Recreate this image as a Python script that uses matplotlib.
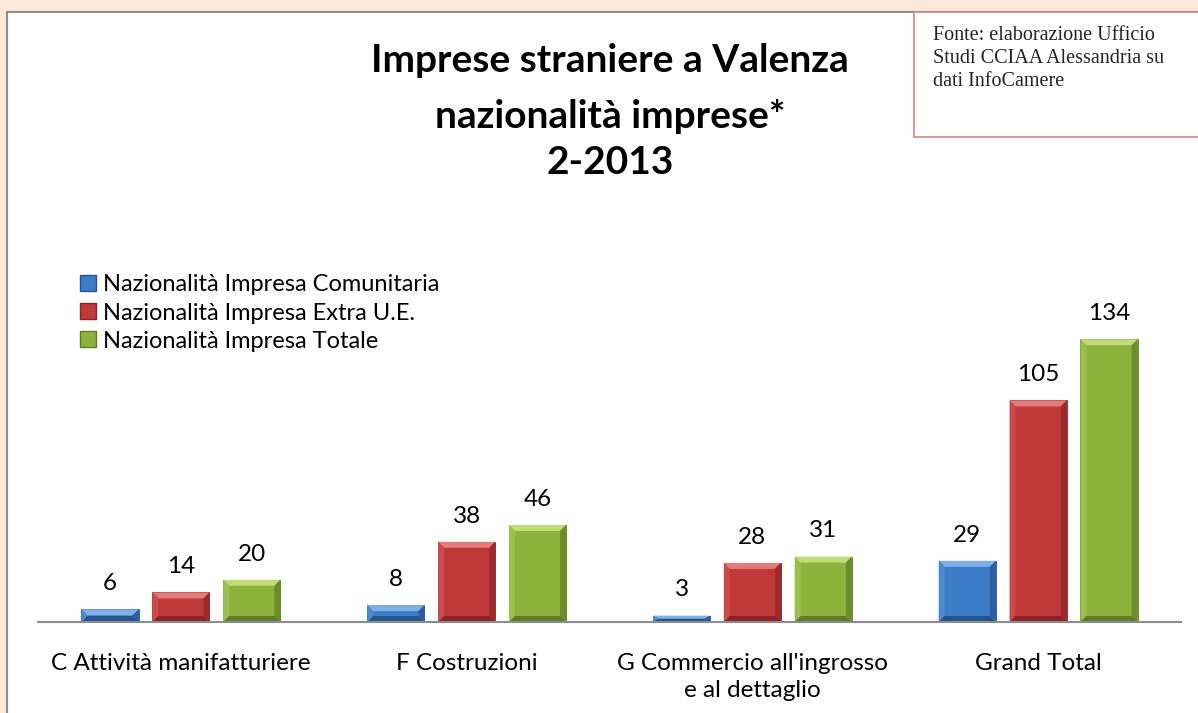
import matplotlib
matplotlib.use("Agg")
import matplotlib.pyplot as plt
from matplotlib.patches import Rectangle, Polygon, Patch
import numpy as np

categories = ["C Attività manifatturiere", "F Costruzioni",
              "G Commercio all'ingrosso\ne al dettaglio", "Grand Total"]
series_names = ["Nazionalità Impresa Comunitaria",
                "Nazionalità Impresa Extra U.E.",
                "Nazionalità Impresa Totale"]
comunitaria = [6, 8, 3, 29]
extra_ue = [14, 38, 28, 105]
totale = [20, 46, 31, 134]

title_lines = ["Imprese straniere a Valenza", "nazionalità imprese*", "2-2013"]
source_text = "Fonte: elaborazione Ufficio\nStudi CCIAA Alessandria su\ndati InfoCamere"

base_colors = ["#3b7cc6", "#c0393a", "#8db33d"]
light_colors = ["#7fb0ea", "#e57a7a", "#c0dc78"]
side_light = ["#4f8ad0", "#cc4a4a", "#9cc04c"]
dark_colors = ["#24558f", "#8a2426", "#5f7d25"]

W, H = 1198, 713
fig = plt.figure(figsize=(W / 100, H / 100), dpi=100)
fig.patch.set_facecolor("#fde9d9")

# inner white panel
fig.patches.append(Rectangle((7 / W, -0.01), 1.0, 1.01 - 12 / H, transform=fig.transFigure,
                             facecolor="white", edgecolor="#8c8c8c", linewidth=1.5, zorder=-3))
# source box
fig.patches.append(Rectangle((914 / W, 1 - 137 / H), 1.0, (137 - 12) / H, transform=fig.transFigure,
                             facecolor="white", edgecolor="#d98585", linewidth=1.2, zorder=-2))
fig.text(933 / W, 1 - 26 / H, source_text, ha="left", va="top",
         family="Liberation Serif", fontsize=14.5, color="#222222", linespacing=1.28)

ax_left, ax_right = 38 / W, 1181 / W
ax_bottom = 91 / H
ymax = 150
px_per_unit = 2.11
ax_h = ymax * px_per_unit / H
ax = fig.add_axes([ax_left, ax_bottom, ax_right - ax_left, ax_h])
ax.set_facecolor("none")

x = np.arange(len(categories))
width = 0.2
offset = 0.248
all_series = [comunitaria, extra_ue, totale]
bars = []
for i, vals in enumerate(all_series):
    b = ax.bar(x + (i - 1) * offset, vals, width, color=base_colors[i],
               edgecolor=dark_colors[i], linewidth=0.6, label=series_names[i], zorder=3)
    bars.append(b)
    for rect, v in zip(b, vals):
        ax.annotate(str(v), (rect.get_x() + rect.get_width() / 2, v),
                    xytext=(0, 11), textcoords="offset points", ha="center", va="bottom",
                    family="Lato", fontsize=17.5, color="black")

ax.set_xlim(-0.5, len(categories) - 0.5)
ax.set_ylim(0, ymax)

# bevel effect derived from bar geometry
ax_w_px = (ax_right - ax_left) * W
ux = ax_w_px / (len(categories))  # px per x unit
bev = 6.0
for i, b in enumerate(bars):
    for rect in b:
        x0 = rect.get_x(); x1 = x0 + rect.get_width()
        y0 = 0; y1 = rect.get_height()
        dx = bev / ux
        dy = min(bev, y1 * px_per_unit / 2) / px_per_unit
        top = Polygon([(x0, y1), (x1, y1), (x1 - dx, y1 - dy), (x0 + dx, y1 - dy)],
                      closed=True, facecolor=light_colors[i], edgecolor="none", zorder=4)
        left = Polygon([(x0, y0), (x0, y1), (x0 + dx, y1 - dy), (x0 + dx, y0 + dy)],
                       closed=True, facecolor=side_light[i], edgecolor="none", zorder=4)
        right = Polygon([(x1, y0), (x1, y1), (x1 - dx, y1 - dy), (x1 - dx, y0 + dy)],
                        closed=True, facecolor=dark_colors[i], edgecolor="none", alpha=0.7, zorder=4)
        bottom = Polygon([(x0, y0), (x1, y0), (x1 - dx, y0 + dy), (x0 + dx, y0 + dy)],
                         closed=True, facecolor=dark_colors[i], edgecolor="none", zorder=4)
        for p in (top, left, right, bottom):
            ax.add_patch(p)

for s in ["top", "right", "left"]:
    ax.spines[s].set_visible(False)
ax.spines["bottom"].set_color("#8c8c8c")
ax.spines["bottom"].set_linewidth(1.5)
ax.spines["bottom"].set_zorder(5)
ax.set_yticks([])
ax.set_xticks(x)
ax.set_xticklabels(categories, family="Lato", fontsize=17.5, linespacing=1.4)
ax.tick_params(axis="x", length=0, pad=22)

for line, yy in zip(title_lines, [60, 116, 163]):
    fig.text(610 / W, 1 - yy / H, line, ha="center", va="center",
             family="Lato", fontweight="bold", fontsize=28, color="black")

handles = [Patch(facecolor=base_colors[i], edgecolor=dark_colors[i]) for i in range(3)]
fig.legend(handles, series_names, loc="upper left", bbox_to_anchor=(71 / W, 1 - 265 / H),
           frameon=False, prop={"family": "Lato", "size": 17},
           handlelength=0.65, handleheight=0.65, handletextpad=0.3, labelspacing=0.3,
           borderaxespad=0)

fig.savefig("out.png", dpi=100, facecolor=fig.get_facecolor())
